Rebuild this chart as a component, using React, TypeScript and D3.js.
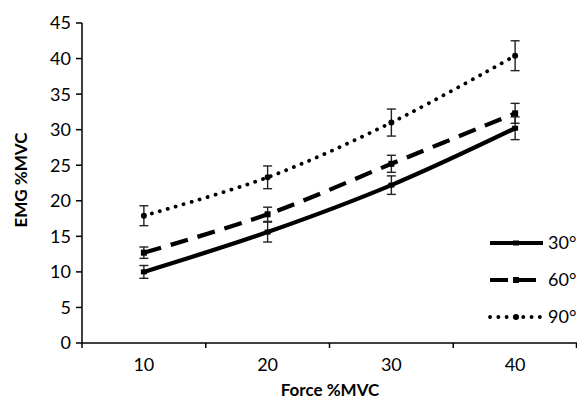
import React from 'react';
import * as d3 from 'd3';

// --- data ---
const forceLevels = ['10', '20', '30', '40'];
const yTicks = [0, 5, 10, 15, 20, 25, 30, 35, 40, 45];

const series30 = [10.0, 15.6, 22.2, 30.2];
const err30 = [0.9, 1.4, 1.3, 1.6];
const series60 = [12.7, 18.1, 25.2, 32.3];
const err60 = [0.8, 1.0, 1.2, 1.4];
const series90 = [17.9, 23.3, 31.0, 40.4];
const err90 = [1.4, 1.6, 1.9, 2.1];

const seriesDefs = [
  { name: '30°', values: series30, errors: err30, dash: '', width: 4.2, cap: 'butt' as const, marker: 'dash' },
  { name: '60°', values: series60, errors: err60, dash: '18 10', width: 4.2, cap: 'butt' as const, marker: 'square' },
  { name: '90°', values: series90, errors: err90, dash: '0.1 8.2', width: 3.8, cap: 'round' as const, marker: 'circle' },
];

const W = 577;
const H = 403;
const margin = { left: 82, right: 0, top: 23, bottom: 60 };
const FONT = 'Lato, "Open Sans", sans-serif';

function Marker({ kind, x, y }: { kind: string; x: number; y: number }) {
  if (kind === 'square') return <rect x={x - 3} y={y - 3} width={6} height={6} fill="#000" />;
  if (kind === 'circle') return <circle cx={x} cy={y} r={3} fill="#000" />;
  return <rect x={x - 3} y={y - 2.5} width={6} height={5} fill="#000" />;
}

export default function App() {
  const plotBottom = H - margin.bottom;
  const x = d3.scaleBand<string>().domain(forceLevels).range([margin.left, W - margin.right]);
  const y = d3.scaleLinear().domain([0, 45]).range([plotBottom, margin.top]);
  const cx = (d: string) => (x(d) ?? 0) + x.bandwidth() / 2;

  const line = d3
    .line<number>()
    .x((_, i) => cx(forceLevels[i]))
    .y((v) => y(v))
    .curve(d3.curveCatmullRom.alpha(0.5));

  const catTicks = forceLevels.map((d) => x(d) ?? 0).concat([W - margin.right - 0.5]);
  const legendX = 490;
  const legendY = [243, 280, 317];

  return (
    <svg width={W} height={H} style={{ position: 'absolute', left: 0, top: 0, background: '#fff' }}>
      {/* y axis */}
      <line x1={margin.left} x2={margin.left} y1={y(45)} y2={plotBottom} stroke="#000" strokeWidth={1.5} />
      {yTicks.map((t) => (
        <g key={t}>
          <line x1={margin.left - 6} x2={margin.left} y1={y(t)} y2={y(t)} stroke="#000" strokeWidth={1.5} />
          <text x={margin.left - 11} y={y(t)} dy="0.36em" textAnchor="end" fontFamily={FONT} fontSize={18} fill="#000">
            {t}
          </text>
        </g>
      ))}
      {/* x axis */}
      <line x1={margin.left} x2={W} y1={plotBottom} y2={plotBottom} stroke="#000" strokeWidth={1.5} />
      {catTicks.map((tx, i) => (
        <line key={i} x1={tx} x2={tx} y1={plotBottom} y2={plotBottom + 5} stroke="#000" strokeWidth={1.5} />
      ))}
      {forceLevels.map((d) => (
        <text key={d} x={cx(d)} y={plotBottom + 28} textAnchor="middle" fontFamily={FONT} fontSize={18} fill="#000">
          {d}
        </text>
      ))}

      {/* axis titles */}
      <text
        transform={`translate(27,180) rotate(-90)`}
        textAnchor="middle"
        fontFamily={FONT}
        fontWeight="bold"
        fontSize={17}
        fill="#000"
      >
        EMG %MVC
      </text>
      <text x={330} y={H - 7} textAnchor="middle" fontFamily={FONT} fontWeight="bold" fontSize={17} fill="#000">
        Force %MVC
      </text>

      {/* series */}
      {seriesDefs.map((s) => (
        <g key={s.name}>
          <path
            d={line(s.values) ?? ''}
            fill="none"
            stroke="#000"
            strokeWidth={s.width}
            strokeDasharray={s.dash || undefined}
            strokeLinecap={s.cap}
          />
          {s.values.map((v, i) => {
            const px = cx(forceLevels[i]);
            const top = y(v + s.errors[i]);
            const bot = y(v - s.errors[i]);
            return (
              <g key={i}>
                <line x1={px} x2={px} y1={top} y2={bot} stroke="#222" strokeWidth={1.4} />
                <line x1={px - 4.5} x2={px + 4.5} y1={top} y2={top} stroke="#222" strokeWidth={1.4} />
                <line x1={px - 4.5} x2={px + 4.5} y1={bot} y2={bot} stroke="#222" strokeWidth={1.4} />
                <Marker kind={s.marker} x={px} y={y(v)} />
              </g>
            );
          })}
        </g>
      ))}

      {/* legend */}
      {seriesDefs.map((s, i) => (
        <g key={s.name}>
          <line
            x1={legendX}
            x2={legendX + 53}
            y1={legendY[i]}
            y2={legendY[i]}
            stroke="#000"
            strokeWidth={s.width}
            strokeDasharray={s.dash || undefined}
            strokeLinecap={s.cap}
          />
          <Marker kind={s.marker} x={legendX + 26} y={legendY[i]} />
          <text x={legendX + 58} y={legendY[i]} dy="0.36em" fontFamily={FONT} fontSize={18} fill="#000">
            {s.name}
          </text>
        </g>
      ))}
    </svg>
  );
}
